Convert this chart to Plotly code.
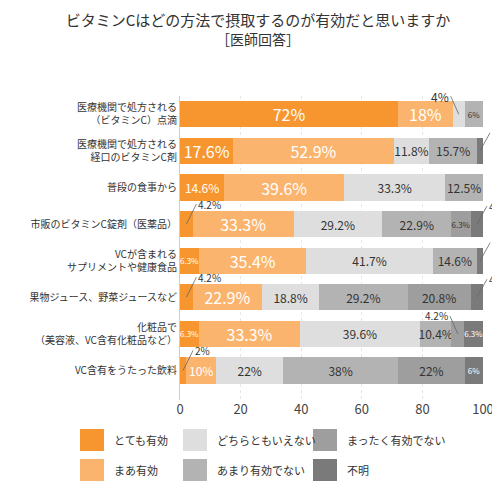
import plotly.graph_objects as go

categories = ["医療機関で処方される<br>（ビタミンC）点滴", "医療機関で処方される<br>経口のビタミンC剤", "普段の食事から",
              "市販のビタミンC錠剤（医薬品）", "VCが含まれる<br>サプリメントや健康食品", "果物ジュース、野菜ジュースなど",
              "化粧品で<br>（美容液、VC含有化粧品など）", "VC含有をうたった飲料"]
series_names = ["とても有効", "まあ有効", "どちらともいえない", "あまり有効でない", "まったく有効でない", "不明"]
totemo = [72, 17.6, 14.6, 4.2, 6.3, 4.2, 6.3, 2]
maa = [18, 52.9, 39.6, 33.3, 35.4, 22.9, 33.3, 10]
dochira = [4, 11.8, 33.3, 29.2, 41.7, 18.8, 39.6, 22]
amari = [6, 15.7, 12.5, 22.9, 14.6, 29.2, 10.4, 38]
mattaku = [0, 0, 0, 6.3, 0, 20.8, 4.2, 22]
fumei = [0, 2, 0, 4.2, 2.1, 4.2, 6.3, 6]
series = [totemo, maa, dochira, amari, mattaku, fumei]
colors = ["#F7962F", "#FAB46D", "#DEDEDE", "#B3B3B3", "#9E9E9E", "#7A7A7A"]
txtcol = ["white", "white", "#333", "#333", "#333", "white"]

L, R, T, B = 172, 475, 88, 392
def px(xp): return (xp - L) / (R - L)
def py(yp): return (B - yp) / (B - T)

fig = go.Figure()
outside = []
for si, (name, vals) in enumerate(zip(series_names, series)):
    texts, sizes = [], []
    for ci, v in enumerate(vals):
        if v == 0:
            texts.append(""); sizes.append(8)
        elif v < 5:
            texts.append(""); sizes.append(8)
            start = sum(series[k][ci] for k in range(si))
            outside.append((ci, start + v / 2, v))
        else:
            texts.append(f"{v:g}%")
            if si < 2 and v >= 17:
                sizes.append(16)
            elif v >= 8:
                sizes.append(12)
            else:
                sizes.append(8)
    fig.add_trace(go.Bar(
        y=categories, x=vals, name=name, orientation="h", marker=dict(color=colors[si], line=dict(width=0)),
        text=texts, textposition="inside", insidetextanchor="middle", textangle=0,
        textfont=dict(size=sizes, color=txtcol[si]), constraintext="none",
        showlegend=False, hoverinfo="skip"))

for ci, xc, v in outside:
    label = f"{v:g}%"
    if xc > 50:
        fig.add_annotation(x=xc, y=categories[ci], text=label, showarrow=True, arrowhead=0, arrowwidth=0.8,
                           arrowcolor="#666", ax=(10 if xc > 97 else -8), ay=-18, xanchor=("left" if xc > 97 else "right"),
                           font=dict(size=12 if ci < 2 else 10, color="#333"))
    else:
        fig.add_annotation(x=xc, y=categories[ci], text=label, showarrow=True, arrowhead=0, arrowwidth=0.8,
                           arrowcolor="#666", ax=10, ay=-20, xanchor="left", font=dict(size=10, color="#333"))

# manual legend (3 columns x 2 rows)
legend_pos = [(72, 432), (72, 462), (175, 432), (175, 462), (305, 432), (305, 462)]
for si, name in enumerate(series_names):
    x0, yc = legend_pos[si]
    fig.add_shape(type="rect", xref="paper", yref="paper", x0=px(x0), x1=px(x0 + 24), y0=py(yc + 11), y1=py(yc - 11),
                  fillcolor=colors[si], line=dict(width=0))
    fig.add_annotation(xref="paper", yref="paper", x=px(x0 + 32), y=py(yc), text=name, showarrow=False,
                       xanchor="left", yanchor="middle", font=dict(size=11, color="#333"))

fig.update_layout(
    width=500, height=500, barmode="stack", bargap=0.28, plot_bgcolor="white", paper_bgcolor="white",
    font=dict(family="Noto Sans CJK JP", color="#333"),
    margin=dict(l=L, r=500 - R, t=T, b=500 - B),
    title=dict(text="ビタミンCはどの方法で摂取するのが有効だと思いますか<br><span style='font-size:14px'>［医師回答］</span>",
               x=0.5, xanchor="center", xref="paper", y=0.965, yanchor="top", font=dict(size=15)),
    xaxis=dict(range=[0, 100], tickvals=[0, 20, 40, 60, 80, 100], showgrid=True, gridcolor="#e6e6e6",
               griddash="dot", zeroline=False, tickfont=dict(size=13, color="#444"), fixedrange=True),
    yaxis=dict(autorange="reversed", tickfont=dict(size=10, color="#333"), showline=True, linecolor="#ccc", ticks=""),
    showlegend=False,
)
fig.update_layout(title_x=0.5, title_xref="container")
fig.write_html("out.html")
